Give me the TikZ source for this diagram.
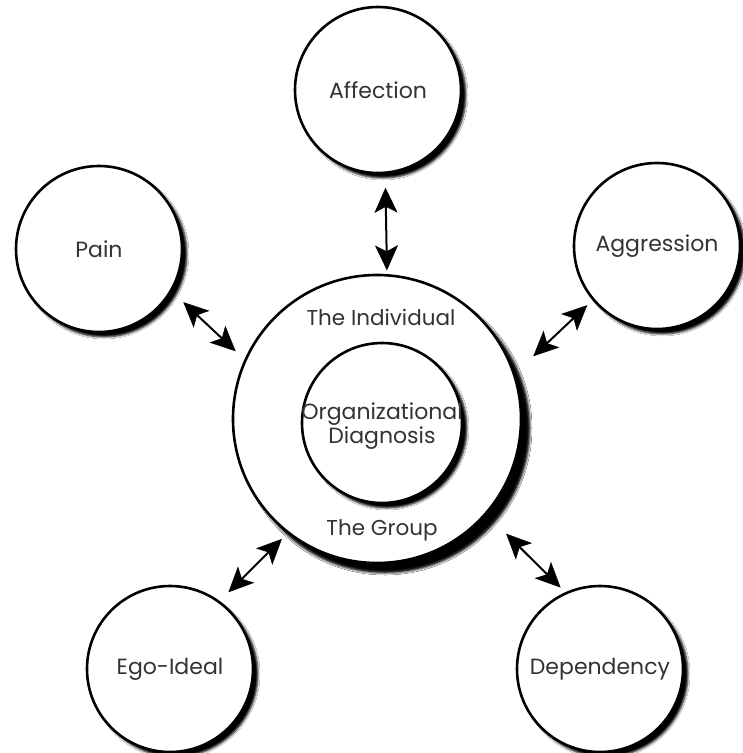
\documentclass[tikz,border=0pt]{standalone}
\usepackage{fontspec}
\newfontfamily\lbl{Poppins}
\usetikzlibrary{arrows.meta,shadows.blur}
\definecolor{txt}{HTML}{333333}
\tikzset{
  ring/.style={circle, draw=black, line width=2.6pt, fill=white,
    inner sep=0pt, outer sep=0pt, text=txt,
    font=\lbl\fontsize{22}{25}\selectfont,
    blur shadow={shadow xshift=5pt, shadow yshift=-5pt,
      shadow opacity=100, shadow blur radius=2pt}},
  small/.style={ring, minimum size=166pt},
  label text/.style={text=txt, inner sep=0pt, align=center,
    font=\lbl\fontsize{21.5}{25}\selectfont},
  head/.tip={Stealth[length=25pt,width=23pt,inset=6pt,fill=black,line width=0.5pt]},
  link/.style={line width=2pt, head-head}
}
\begin{document}
\begin{tikzpicture}[x=1pt,y=-1pt]
  \useasboundingbox (0,0) rectangle (743,753);
  \fill[white] (0,0) rectangle (743,753);

  % central rings
  \node[ring, minimum size=288pt,
    blur shadow={shadow xshift=8pt, shadow yshift=-9pt,
      shadow opacity=100, shadow blur radius=3pt}] (big) at (377,419) {};
  \node[ring, minimum size=160pt] (inner) at (382,423) {};
  \node[label text, font=\lbl\fontsize{22}{24}\selectfont] (org) at (382,426)
    {Organizational\\Diagnosis};
  \node[label text] (indiv) at (381,317) {The Individual};
  \node[label text] (group) at (382,530) {The Group};

  % surrounding circles
  \node[small] (aff) at (378,90)  {Affection};
  \node[small] (pain) at (99,249) {Pain};
  \node[small] (agg) at (657,246) {Aggression};
  \node[small] (ego) at (170,669) {Ego-Ideal};
  \node[small] (dep) at (600,669) {Dependency};

  % two-way links to the centre
  \draw[link, shorten <=15pt, shorten >=5pt] (aff.-85.2) -- (big.86.8);
  \draw[link, shorten <=17pt, shorten >=13.4pt] (pain.-30.4) -- (big.156.8);
  \draw[link, shorten <=8.5pt, shorten >=26.6pt] (agg.220) -- (big.18.6);
  \draw[link, shorten <=13.6pt, shorten >=9.1pt] (ego.54.4) -- (big.232.1);
  \draw[link, shorten <=7.9pt, shorten >=28.8pt] (dep.114.4) -- (big.-41.8);
\end{tikzpicture}
\end{document}
